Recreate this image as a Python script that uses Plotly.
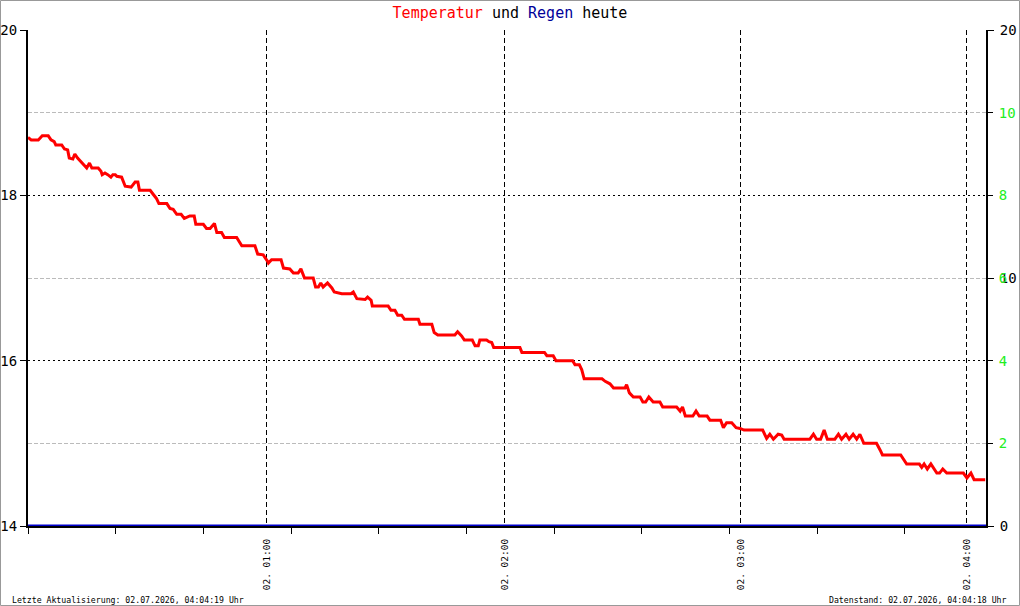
import plotly.graph_objects as go

# ---- data ----
minutes = [0.0, 0.8, 2.6, 3.6, 5.1, 5.8, 6.6, 7.0, 8.5, 9.2, 10.0, 10.4, 11.3, 11.8, 12.5, 13.5, 14.4, 14.8, 15.5, 16.1,
           17.7, 18.4, 18.7, 19.4, 20.1, 20.9, 21.4, 22.0, 22.4, 23.6, 24.5, 26.0, 27.0, 27.7, 28.1, 30.8, 31.6, 32.4,
           33.0, 35.0, 35.8, 36.6, 37.5, 38.6, 39.4, 40.4, 40.8, 41.9, 42.3, 44.2, 45.0, 45.9, 47.0, 47.6, 48.8, 49.5,
           52.6, 53.9, 57.2, 57.9, 59.3, 60.4,
           60.6, 61.4, 63.8, 64.4, 66.0, 66.9, 68.1, 68.8, 69.7, 71.9, 72.5, 73.2, 73.8, 74.4, 75.5, 76.6, 77.2, 79.1,
           81.4, 82.0, 82.9, 85.0, 85.6, 86.5, 86.8, 90.8, 91.5, 92.5, 93.2, 94.2, 94.9, 98.4, 98.8, 101.8, 102.4, 103.3,
           107.6, 108.3, 109.3, 110.0, 112.0, 112.7, 113.5, 113.9, 115.6, 116.2, 116.9, 117.4, 121.5,
           124.0, 124.5, 130.2, 130.8, 132.4, 133.1, 137.3, 137.9, 139.0, 139.6, 140.2, 144.7, 145.5, 146.7, 147.6,
           150.5, 150.9, 151.6, 152.6, 154.3, 155.0, 155.7, 156.5, 157.6, 159.3, 160.0, 163.5, 164.4, 165.0, 165.7,
           167.6, 168.4, 169.2, 171.2, 171.9, 174.6, 175.3, 176.1, 177.4, 178.5, 179.5, 180.5,
           185.2, 186.2, 187.0, 187.9, 189.1, 190.0, 190.6, 197.1, 198.0, 198.8, 199.8, 200.7, 201.5, 203.4, 204.3,
           205.1, 206.2, 207.0, 208.0, 208.9, 209.7, 210.7, 213.9, 214.8, 215.4, 220.0, 220.6, 221.5, 224.7, 225.3,
           225.9, 226.7, 227.6, 228.3, 229.1, 229.8, 230.6, 231.6, 235.8, 236.7, 237.7, 238.5, 241.3]
temperature = [18.70, 18.67, 18.67, 18.72, 18.72, 18.67, 18.65, 18.61, 18.61, 18.56, 18.55, 18.45, 18.44, 18.50, 18.45,
               18.40, 18.35, 18.33, 18.39, 18.33, 18.33, 18.29, 18.25, 18.27, 18.25, 18.22, 18.25, 18.25, 18.23, 18.22,
               18.11, 18.10, 18.16, 18.16, 18.06, 18.06, 18.01, 17.96, 17.90, 17.90, 17.84, 17.83, 17.77, 17.77, 17.72,
               17.74, 17.75, 17.75, 17.65, 17.65, 17.60, 17.60, 17.66, 17.55, 17.55, 17.49, 17.49, 17.39, 17.39, 17.29,
               17.28, 17.20,
               17.18, 17.22, 17.22, 17.12, 17.11, 17.06, 17.06, 17.11, 17.00, 17.00, 16.89, 16.89, 16.94, 16.89, 16.94,
               16.88, 16.83, 16.81, 16.81, 16.83, 16.75, 16.74, 16.77, 16.73, 16.66, 16.66, 16.61, 16.61, 16.55, 16.55,
               16.50, 16.50, 16.44, 16.44, 16.34, 16.31, 16.31, 16.35, 16.30, 16.25, 16.25, 16.18, 16.18, 16.25, 16.25,
               16.23, 16.22, 16.16, 16.16,
               16.16, 16.10, 16.10, 16.06, 16.06, 16.00, 16.00, 15.95, 15.95, 15.89, 15.78, 15.78, 15.75, 15.72, 15.67,
               15.67, 15.71, 15.61, 15.56, 15.56, 15.50, 15.50, 15.56, 15.50, 15.50, 15.44, 15.44, 15.39, 15.44, 15.33,
               15.33, 15.39, 15.33, 15.33, 15.28, 15.28, 15.19, 15.25, 15.25, 15.19, 15.18, 15.16,
               15.16, 15.06, 15.11, 15.05, 15.11, 15.10, 15.05, 15.05, 15.11, 15.05, 15.05, 15.16, 15.05, 15.05, 15.11,
               15.05, 15.11, 15.05, 15.11, 15.05, 15.11, 15.00, 15.00, 14.92, 14.86, 14.86, 14.81, 14.75, 14.75, 14.71,
               14.75, 14.69, 14.75, 14.69, 14.64, 14.64, 14.69, 14.64, 14.64, 14.58, 14.64, 14.56, 14.56]

rain_minutes = [0.0, 241.5]
rain_mm = [0.0, 0.0]

x_range = [0, 241.5]
hour_ticks = [60.2, 120.2, 179.6, 236.7]
hour_labels = ["02. 01:00", "02. 02:00", "02. 03:00", "02. 04:00"]
minor_x_ticks = [0, 22.1, 44.2, 66.3, 88.4, 110.5, 132.6, 154.7, 176.8, 198.9, 221.0]

temp_range = [14, 20]
temp_ticks = [14, 16, 18, 20]
temp_minor = [15, 17, 19]
rain_range = [0, 20]
rain_ticks = [0, 10, 20]
green_range = [0, 12]
green_ticks = [2, 4, 6, 8, 10]

footer_left = "Letzte Aktualisierung: 02.07.2026, 04:04:19 Uhr"
footer_right = "Datenstand: 02.07.2026, 04:04:18 Uhr"
title = ('<span style="color:#ff0000">Temperatur</span> und '
         '<span style="color:#000099">Regen</span> heute')

# ---- layout geometry ----
W, H = 1020, 606
L, R, T, B = 28, 34, 30, 80
PW, PH = W - L - R, H - T - B
MONO = "DejaVu Sans Mono, Liberation Mono, monospace"

fig = go.Figure()
fig.add_trace(go.Scatter(x=rain_minutes, y=rain_mm, yaxis="y2", mode="lines",
                         line=dict(color="#0000cc", width=3), showlegend=False, hoverinfo="skip"))
fig.add_trace(go.Scatter(x=minutes, y=temperature, mode="lines",
                         line=dict(color="#ff0000", width=3), showlegend=False))
# dummy trace to activate green axis
fig.add_trace(go.Scatter(x=[None], y=[None], yaxis="y3", showlegend=False))

fig.update_layout(
    width=W, height=H,
    margin=dict(l=L, r=R, t=T, b=B, pad=0, autoexpand=False),
    paper_bgcolor="white", plot_bgcolor="white",
    title=dict(text=title, x=0.5, xanchor="center", y=1 - 13 / H, yanchor="middle",
               font=dict(family=MONO, size=15, color="black")),
    xaxis=dict(range=x_range, tickmode="array", tickvals=hour_ticks, ticktext=hour_labels,
               tickangle=-90, tickfont=dict(family=MONO, size=9.5, color="black"),
               ticks="", showgrid=True, gridcolor="black", griddash="5px,3px", gridwidth=1,
               showline=True, linecolor="black", linewidth=2, zeroline=False, automargin=False,
               ticklabelstandoff=7,
               minor=dict(tickmode="array", tickvals=minor_x_ticks, ticks="outside", ticklen=6,
                          tickcolor="black", tickwidth=1, showgrid=False)),
    yaxis=dict(range=temp_range, tickmode="array", tickvals=temp_ticks,
               tickfont=dict(family=MONO, size=14, color="black"),
               ticks="outside", ticklen=6, tickcolor="black", automargin=False,
               showgrid=True, gridcolor="black", griddash="2px,3px", gridwidth=1,
               showline=True, linecolor="black", linewidth=2, zeroline=False,
               minor=dict(tickmode="array", tickvals=temp_minor, ticks="", showgrid=True,
                          gridcolor="#bbbbbb", griddash="4px,2px", gridwidth=1)),
    yaxis2=dict(range=rain_range, tickmode="array", tickvals=rain_ticks, overlaying="y", side="right",
                tickfont=dict(family=MONO, size=14, color="black"), automargin=False,
                ticks="outside", ticklen=6, tickcolor="black", ticklabelstandoff=3,
                showgrid=False, showline=True, linecolor="black", linewidth=2, zeroline=False),
    yaxis3=dict(range=green_range, tickmode="array", tickvals=green_ticks, overlaying="y", side="right",
                tickfont=dict(family=MONO, size=14, color="#22ee22"), automargin=False,
                ticks="outside", ticklen=6, tickcolor="black", ticklabelstandoff=3,
                showgrid=False, showline=False, zeroline=False),
    annotations=[
        dict(text=footer_left, xref="paper", yref="paper", x=(10 - L) / PW, y=(H - B - 600) / PH,
             xanchor="left", yanchor="middle", showarrow=False,
             font=dict(family=MONO, size=8.2, color="black")),
        dict(text=footer_right, xref="paper", yref="paper", x=(1009 - L) / PW, y=(H - B - 600) / PH,
             xanchor="right", yanchor="middle", showarrow=False,
             font=dict(family=MONO, size=8.2, color="black")),
    ],
    shapes=[dict(type="rect", xref="paper", yref="paper",
                 x0=(0.5 - L) / PW, x1=(W - 0.5 - L) / PW,
                 y0=-(B - 0.5) / PH, y1=1 + (T - 0.5) / PH,
                 line=dict(color="#999999", width=1), layer="above")],
)

fig.write_html("out.html")
